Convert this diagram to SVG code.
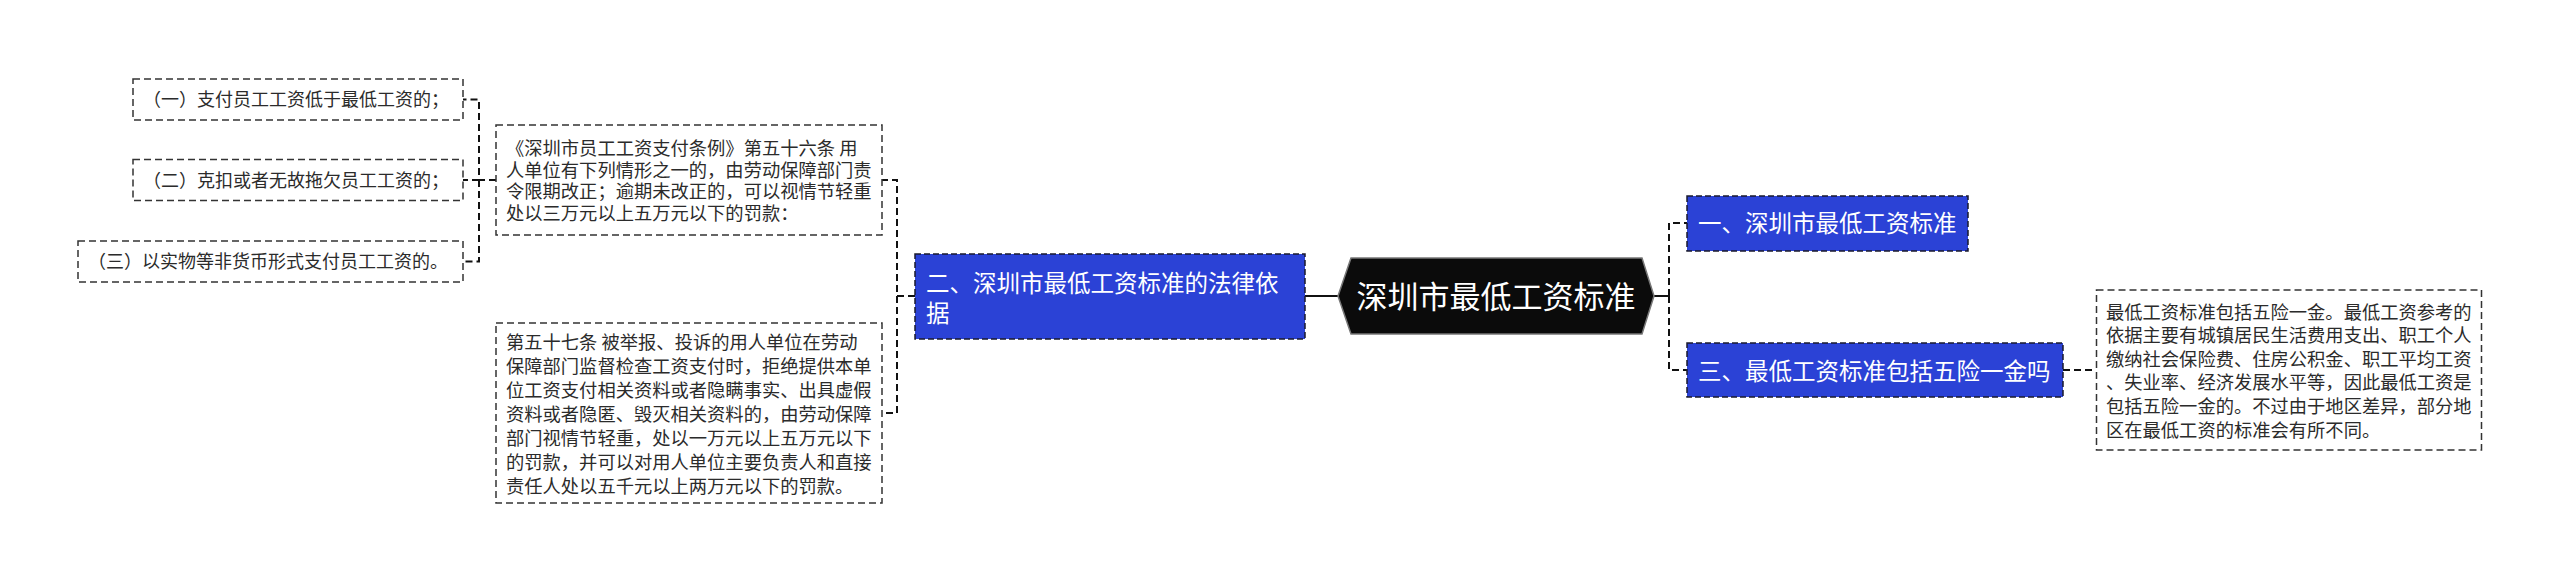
<svg xmlns="http://www.w3.org/2000/svg" width="2560" height="583" viewBox="0 0 2560 583">
<style>
.bg{fill:#ffffff}
.wbox{fill:#ffffff;stroke:#333333;stroke-width:1.5;stroke-dasharray:7 4}
.bbox{fill:#2b42d6;stroke:#1a1a2e;stroke-width:1.5;stroke-dasharray:6 3}
.hex{fill:#0b0b0b;stroke:#777777;stroke-width:1.5}
.conn{fill:none;stroke:#111111;stroke-width:2;stroke-dasharray:7 4}
.connS{fill:none;stroke:#111111;stroke-width:2}
.t{font-family:"Noto Sans CJK SC","Liberation Sans",sans-serif;fill:#2b2b2b}
.s18{font-size:18px}
.s183{font-size:18.3px}
.tw{font-family:"Noto Sans CJK SC","Liberation Sans",sans-serif;fill:#ffffff;font-size:23.5px}
.tc{font-family:"Noto Sans CJK SC","Liberation Sans",sans-serif;fill:#ffffff;font-size:31px}
</style>
<rect class="bg" x="0" y="0" width="2560" height="583"/>
<g id="connectors">
  <path class="conn" d="M496,180 H479 V99.5 H463"/>
  <path class="conn" d="M479,180 H463"/>
  <path class="conn" d="M479,180 V261.5 H463"/>
  <path class="conn" d="M915,296 H897 V180 H882"/>
  <path class="conn" d="M897,296 V413 H882"/>
  <path class="connS" d="M1305,296 H1338"/>
  <path class="connS" d="M1654,296 H1669"/>
  <path class="conn" d="M1669,296 V223 H1687"/>
  <path class="conn" d="M1669,296 V370 H1687"/>
  <path class="conn" d="M2063,370 H2096"/>
</g>
<g id="root">
  <polygon class="hex" points="1338,296 1351,258 1642,258 1654,296 1642,334 1351,334"/>
  <text class="tc" x="1496" y="308" text-anchor="middle">深圳市最低工资标准</text>
</g>
<g id="n1">
  <rect class="bbox" x="1687" y="196" width="281" height="55"/>
  <text class="tw" x="1698" y="232">一、深圳市最低工资标准</text>
</g>
<g id="n3">
  <rect class="bbox" x="1687" y="343" width="376" height="54"/>
  <text class="tw" x="1698" y="380">三、最低工资标准包括五险一金吗</text>
</g>
<g id="n3a">
  <rect class="wbox" x="2096.5" y="290" width="385" height="160"/>
  <text class="t s183" x="2106">
    <tspan x="2106" y="318.5">最低工资标准包括五险一金。最低工资参考的</tspan>
    <tspan x="2106" y="342.1">依据主要有城镇居民生活费用支出、职工个人</tspan>
    <tspan x="2106" y="365.7">缴纳社会保险费、住房公积金、职工平均工资</tspan>
    <tspan x="2106" y="389.3">、失业率、经济发展水平等，因此最低工资是</tspan>
    <tspan x="2106" y="412.9">包括五险一金的。不过由于地区差异，部分地</tspan>
    <tspan x="2106" y="436.5">区在最低工资的标准会有所不同。</tspan>
  </text>
</g>
<g id="n2">
  <rect class="bbox" x="915" y="254" width="390" height="85"/>
  <text class="tw" x="926" y="291.7">二、深圳市最低工资标准的法律依</text>
  <text class="tw" x="926" y="321.7">据</text>
</g>
<g id="n2a">
  <rect class="wbox" x="496" y="125" width="386" height="110"/>
  <text class="t s183">
    <tspan x="506" y="155">《深圳市员工工资支付条例》第五十六条 用</tspan>
    <tspan x="506" y="176.7">人单位有下列情形之一的，由劳动保障部门责</tspan>
    <tspan x="506" y="198.4">令限期改正；逾期未改正的，可以视情节轻重</tspan>
    <tspan x="506" y="220.1">处以三万元以上五万元以下的罚款：</tspan>
  </text>
</g>
<g id="n2b">
  <rect class="wbox" x="496" y="323" width="386" height="180"/>
  <text class="t s183">
    <tspan x="506" y="348.8">第五十七条 被举报、投诉的用人单位在劳动</tspan>
    <tspan x="506" y="372.8">保障部门监督检查工资支付时，拒绝提供本单</tspan>
    <tspan x="506" y="396.8">位工资支付相关资料或者隐瞒事实、出具虚假</tspan>
    <tspan x="506" y="420.8">资料或者隐匿、毁灭相关资料的，由劳动保障</tspan>
    <tspan x="506" y="444.8">部门视情节轻重，处以一万元以上五万元以下</tspan>
    <tspan x="506" y="468.8">的罚款，并可以对用人单位主要负责人和直接</tspan>
    <tspan x="506" y="492.8">责任人处以五千元以上两万元以下的罚款。</tspan>
  </text>
</g>
<g id="l1">
  <rect class="wbox" x="133" y="79" width="330" height="41"/>
  <text class="t s18" x="143" y="106">（一）支付员工工资低于最低工资的；</text>
</g>
<g id="l2">
  <rect class="wbox" x="133" y="159.5" width="330" height="41"/>
  <text class="t s18" x="143" y="186.7">（二）克扣或者无故拖欠员工工资的；</text>
</g>
<g id="l3">
  <rect class="wbox" x="78" y="241" width="385" height="41"/>
  <text class="t s18" x="88" y="268">（三）以实物等非货币形式支付员工工资的。</text>
</g>
</svg>
